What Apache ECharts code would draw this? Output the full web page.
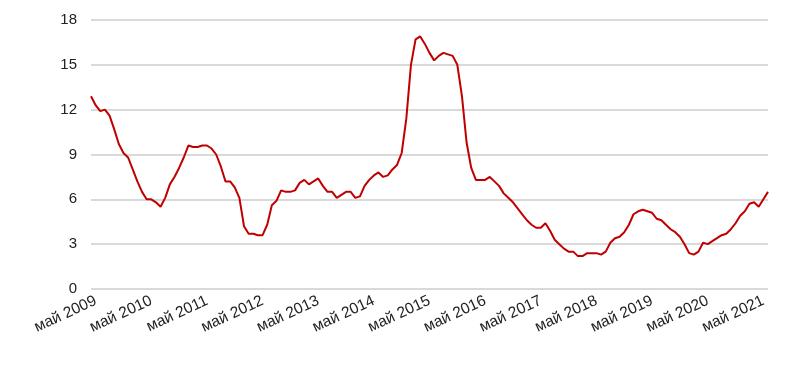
<!DOCTYPE html>
<html>
<head>
<meta charset="utf-8">
<script src="https://cdn.jsdelivr.net/npm/echarts@6/dist/echarts.min.js"></script>
<style>
  html, body { margin: 0; padding: 0; background: #fff; }
  #chart { width: 800px; height: 376px; }
</style>
</head>
<body>
<div id="chart"></div>
<script>
// monthly, Apr 2009 .. Jun 2021
const monthNames = ['янв', 'фев', 'мар', 'апр', 'май', 'июн', 'июл', 'авг', 'сен', 'окт', 'ноя', 'дек'];
const startYear = 2009;
const startMonth = 3; // апр

const values = [
  12.9, 12.3, 11.9, 12.0, 11.6, 10.7, 9.7, 9.1, 8.8,
  8.0, 7.2, 6.5, 6.0, 6.0, 5.8, 5.5, 6.1, 7.0, 7.5, 8.1, 8.8,
  9.6, 9.5, 9.5, 9.6, 9.6, 9.4, 9.0, 8.2, 7.2, 7.2, 6.8, 6.1,
  4.2, 3.7, 3.7, 3.6, 3.6, 4.3, 5.6, 5.9, 6.6, 6.5, 6.5, 6.6,
  7.1, 7.3, 7.0, 7.2, 7.4, 6.9, 6.5, 6.5, 6.1, 6.3, 6.5, 6.5,
  6.1, 6.2, 6.9, 7.3, 7.6, 7.8, 7.5, 7.6, 8.0, 8.3, 9.1, 11.4,
  15.0, 16.7, 16.9, 16.4, 15.8, 15.3, 15.6, 15.8, 15.7, 15.6, 15.0, 12.9,
  9.8, 8.1, 7.3, 7.3, 7.3, 7.5, 7.2, 6.9, 6.4, 6.1, 5.8, 5.4,
  5.0, 4.6, 4.3, 4.1, 4.1, 4.4, 3.9, 3.3, 3.0, 2.7, 2.5, 2.5,
  2.2, 2.2, 2.4, 2.4, 2.4, 2.3, 2.5, 3.1, 3.4, 3.5, 3.8, 4.3,
  5.0, 5.2, 5.3, 5.2, 5.1, 4.7, 4.6, 4.3, 4.0, 3.8, 3.5, 3.0,
  2.4, 2.3, 2.5, 3.1, 3.0, 3.2, 3.4, 3.6, 3.7, 4.0, 4.4, 4.9,
  5.2, 5.7, 5.8, 5.5, 6.0, 6.5
];

const yTicks = [0, 3, 6, 9, 12, 15, 18];

const categories = values.map((v, i) => {
  const m = (startMonth + i) % 12;
  const y = startYear + Math.floor((startMonth + i) / 12);
  return monthNames[m] + ' ' + y;
});

const chart = echarts.init(document.getElementById('chart'));
chart.setOption({
  animation: false,
  grid: { left: 91, right: 32, top: 20, bottom: 87 },
  xAxis: {
    type: 'category',
    data: categories,
    boundaryGap: false,
    axisLine: { show: false },
    axisTick: { show: false },
    axisLabel: {
      interval: (i) => i % 12 === 1,
      rotate: 25,
      margin: 11,
      color: '#222',
      fontSize: 15.5,
      fontFamily: 'Liberation Sans'
    }
  },
  yAxis: {
    type: 'value',
    min: yTicks[0],
    max: yTicks[yTicks.length - 1],
    interval: 3,
    axisLine: { show: false },
    axisTick: { show: false },
    splitLine: { lineStyle: { color: '#d9d9d9', width: 2 } },
    axisLabel: {
      margin: 14,
      color: '#222',
      fontSize: 15,
      fontFamily: 'Liberation Sans'
    }
  },
  series: [{
    type: 'line',
    data: values,
    symbol: 'none',
    lineStyle: { color: '#c00000', width: 2 }
  }]
});
</script>
</body>
</html>
